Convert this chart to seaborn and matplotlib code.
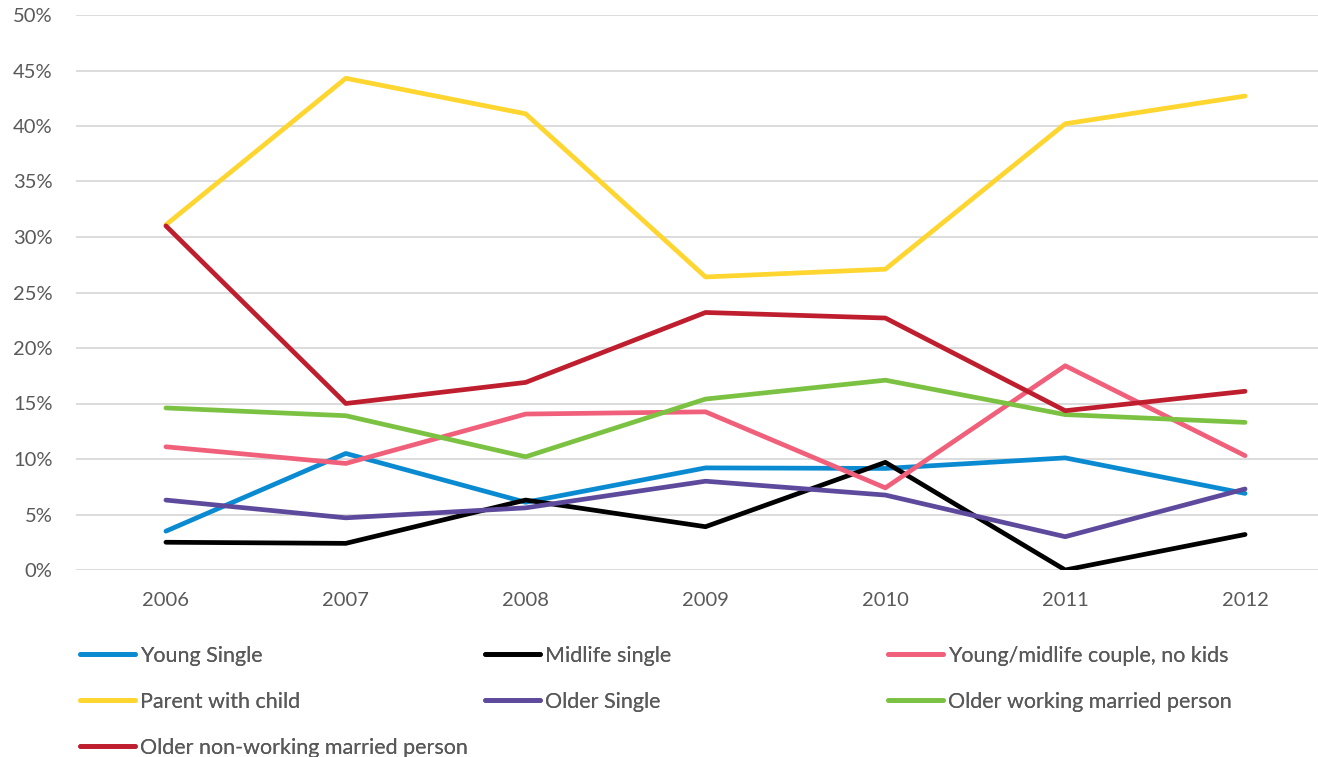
import matplotlib
matplotlib.use("Agg")
import matplotlib.pyplot as plt
import seaborn as sns
import pandas as pd
from matplotlib.lines import Line2D
from matplotlib.ticker import FuncFormatter

years = ["2006", "2007", "2008", "2009", "2010", "2011", "2012"]
young_single = [3.5, 10.5, 6.1, 9.2, 9.15, 10.1, 6.9]
midlife_single = [2.5, 2.4, 6.3, 3.9, 9.7, 0.0, 3.2]
young_couple = [11.1, 9.6, 14.05, 14.25, 7.4, 18.4, 10.3]
parent_child = [31.1, 44.3, 41.1, 26.4, 27.1, 40.2, 42.7]
older_single = [6.3, 4.7, 5.6, 8.0, 6.75, 3.0, 7.3]
older_working = [14.6, 13.9, 10.2, 15.4, 17.1, 14.0, 13.3]
older_nonworking = [31.0, 15.0, 16.9, 23.2, 22.7, 14.35, 16.1]

series_names = ["Young Single", "Midlife single", "Young/midlife couple, no kids",
                "Parent with child", "Older Single", "Older working married person",
                "Older non-working married person"]
series_values = [young_single, midlife_single, young_couple, parent_child,
                 older_single, older_working, older_nonworking]
colors = ["#0A8AD0", "#000000", "#F0607A", "#FFD530", "#5E4A9C", "#7CC242", "#BE1E2D"]

rows = []
for name, vals in zip(series_names, series_values):
    for i, (y, v) in enumerate(zip(years, vals)):
        rows.append({"idx": i, "year": y, "value": v / 100.0, "series": name})
df = pd.DataFrame(rows)

sns.set_theme(style="white")
plt.rcParams["font.family"] = ["Lato", "DejaVu Sans"]

fig = plt.figure(figsize=(13.18, 7.57), dpi=100)
ax = fig.add_axes([76 / 1318, (757 - 570) / 757, (1335 - 76) / 1318, 555 / 757])

palette = dict(zip(series_names, colors))
sns.lineplot(data=df, x="idx", y="value", hue="series", hue_order=series_names,
             palette=palette, linewidth=3.4, ax=ax, legend=False, sort=False)

ax.set_xlim(-0.5, 6.5)
ax.set_ylim(0, 0.5)
ax.set_xticks(range(len(years)))
ax.set_xticklabels(years)
ax.set_yticks([i * 0.05 for i in range(11)])
ax.yaxis.set_major_formatter(FuncFormatter(lambda v, p: f"{v*100:.0f}%"))
ax.grid(axis="y", color="#D9D9D9", linewidth=1.3)
ax.grid(axis="x", visible=False)
ax.set_axisbelow(True)
for s in ax.spines.values():
    s.set_visible(False)
ax.tick_params(axis="both", length=0, labelsize=14.5, labelcolor="#595959")
ax.tick_params(axis="x", pad=16)
ax.tick_params(axis="y", pad=17)
ax.set_xlabel("")
ax.set_ylabel("")

handles = [Line2D([0], [0], color=c, linewidth=3.4, solid_capstyle="round") for c in colors]
columns = [([0, 3, 6], 80), ([1, 4], 485), ([2, 5], 888)]
for idxs, xpix in columns:
    leg = fig.legend([handles[i] for i in idxs], [series_names[i] for i in idxs],
                     loc="upper left", bbox_to_anchor=(xpix / 1318, 1 - 646 / 757),
                     frameon=False, fontsize=15.5, handlelength=2.55, handletextpad=0.23,
                     labelspacing=1.2, borderpad=0, borderaxespad=0)
    for t in leg.get_texts():
        t.set_color("#595959")
    fig.add_artist(leg)

fig.savefig("out.png", dpi=100)
